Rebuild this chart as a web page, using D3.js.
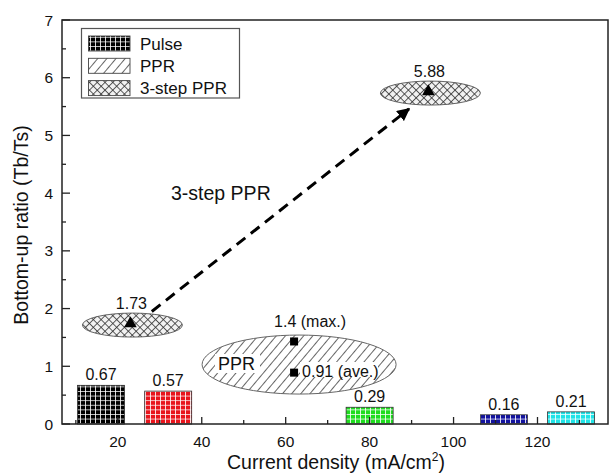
<!DOCTYPE html>
<html>
<head>
<meta charset="utf-8">
<script src="https://cdn.jsdelivr.net/npm/d3@7"></script>
<style>
  html, body { margin: 0; padding: 0; background: #fff; }
  svg { display: block; font-family: "Liberation Sans", Arial, sans-serif; }
</style>
</head>
<body>
<svg id="chart" width="610" height="475"></svg>
<script>
// ---- data ----
const pulseCurrents = [16, 32, 80, 112, 128];
const pulseRatios = [0.67, 0.57, 0.29, 0.16, 0.21];
const pulseLabels = ["0.67", "0.57", "0.29", "0.16", "0.21"];

const stepCurrents = [23, 94];
const stepRatios = [1.74, 5.76];
const stepLabels = ["1.73", "5.88"];

const pprCurrent = 62;
const pprRatios = [1.43, 0.89];
const pprLabels = ["1.4 (max.)", "0.91 (ave.)"];

const arrowFrom = [28.1, 1.95];
const arrowTo = [89.4, 5.46];

const xMajorTicks = [20, 40, 60, 80, 100, 120];
const xMinorTicks = [10, 30, 50, 70, 90, 110, 130];
const yMajorTicks = [0, 1, 2, 3, 4, 5, 6, 7];
const yMinorTicks = [0.5, 1.5, 2.5, 3.5, 4.5, 5.5, 6.5];

const legendNames = ["Pulse", "PPR", "3-step PPR"];

// ---- styles ----
const barColors = ["#000000", "#e8141c", "#1fdc1f", "#12129e", "#1fe3e6"];
const barWidth = 11.2; // in data units

const svg = d3.select("#chart");
const x = d3.scaleLinear().domain([6.7, 136.8]).range([62, 608]);
const y = d3.scaleLinear().domain([0, 7]).range([424, 20]);

const defs = svg.append("defs");
barColors.forEach((c, i) => {
  const p = defs.append("pattern").attr("id", "grid" + i)
    .attr("patternUnits", "userSpaceOnUse").attr("width", 5).attr("height", 4.6);
  p.append("rect").attr("width", 5).attr("height", 4.6).attr("fill", c);
  p.append("path").attr("d", "M0 0.4 H5 M0.5 0 V4.6")
    .attr("stroke", "#fff").attr("stroke-width", 0.9).attr("stroke-opacity", 0.9);
});
const hatch = defs.append("pattern").attr("id", "hatch")
  .attr("patternUnits", "userSpaceOnUse").attr("width", 7).attr("height", 7)
  .attr("patternTransform", "rotate(40)");
hatch.append("rect").attr("width", 7).attr("height", 7).attr("fill", "#fff");
hatch.append("line").attr("x1", 0.5).attr("y1", 0).attr("x2", 0.5).attr("y2", 7)
  .attr("stroke", "#555").attr("stroke-width", 0.9);
const cross = defs.append("pattern").attr("id", "cross")
  .attr("patternUnits", "userSpaceOnUse").attr("width", 5.5).attr("height", 5.5)
  .attr("patternTransform", "rotate(45)");
cross.append("rect").attr("width", 5.5).attr("height", 5.5).attr("fill", "#f2f2f2");
cross.append("path").attr("d", "M0 0.5 H5.5 M0.5 0 V5.5")
  .attr("stroke", "#333").attr("stroke-width", 0.8);
defs.append("marker").attr("id", "arrow")
  .attr("viewBox", "0 0 10 10").attr("refX", 9).attr("refY", 5)
  .attr("markerWidth", 4.3).attr("markerHeight", 4.3).attr("markerUnits", "strokeWidth")
  .attr("orient", "auto")
  .append("path").attr("d", "M0 0 L10 5 L0 10 Z").attr("fill", "#000");

// ---- bars ----
const bars = pulseCurrents.map((c, i) => ({ c, v: pulseRatios[i], label: pulseLabels[i], i }));
svg.append("g").selectAll("rect").data(bars).join("rect")
  .attr("x", d => x(d.c - barWidth / 2))
  .attr("y", d => y(d.v))
  .attr("width", d => x(d.c + barWidth / 2) - x(d.c - barWidth / 2))
  .attr("height", d => y(0) - y(d.v))
  .attr("fill", d => `url(#grid${d.i})`)
  .attr("stroke", "#333").attr("stroke-width", 0.8);
svg.append("g").selectAll("text").data(bars).join("text")
  .attr("x", d => x(d.c)).attr("y", d => y(d.v) - 5)
  .attr("text-anchor", "middle").attr("font-size", 16).attr("fill", "#111")
  .text(d => d.label);

// ---- 3-step PPR ellipses ----
const steps = stepCurrents.map((c, i) => ({ c, v: stepRatios[i], label: stepLabels[i] }));
svg.append("g").selectAll("ellipse").data(steps).join("ellipse")
  .attr("cx", d => x(d.c) + 2).attr("cy", d => y(d.v) + 1.5)
  .attr("rx", 50).attr("ry", 12)
  .attr("fill", "url(#cross)").attr("stroke", "#555").attr("stroke-width", 0.9);
svg.append("g").selectAll("path").data(steps).join("path")
  .attr("d", d3.symbol().type(d3.symbolTriangle).size(70))
  .attr("transform", d => `translate(${x(d.c)},${y(d.v)})`)
  .attr("fill", "#000");
svg.append("g").selectAll("text").data(steps).join("text")
  .attr("x", d => x(d.c) + 1).attr("y", d => y(d.v) - 15)
  .attr("text-anchor", "middle").attr("font-size", 16).attr("fill", "#111")
  .text(d => d.label);

// ---- arrow ----
svg.append("line")
  .attr("x1", x(arrowFrom[0])).attr("y1", y(arrowFrom[1]))
  .attr("x2", x(arrowTo[0])).attr("y2", y(arrowTo[1]))
  .attr("stroke", "#000").attr("stroke-width", 3)
  .attr("stroke-dasharray", "11,7")
  .attr("marker-end", "url(#arrow)");
svg.append("text").attr("x", 171).attr("y", 200)
  .attr("font-size", 19.5).attr("fill", "#111").text("3-step PPR");

// ---- PPR ellipse ----
svg.append("ellipse")
  .attr("cx", x(pprCurrent) + 5).attr("cy", y(1.03))
  .attr("rx", 97).attr("ry", 29.5)
  .attr("fill", "url(#hatch)").attr("stroke", "#666").attr("stroke-width", 1);
svg.append("rect").attr("x", 215).attr("y", 354).attr("width", 45).attr("height", 19).attr("fill", "#fff");
svg.append("text").attr("x", 218).attr("y", 370)
  .attr("font-size", 18).attr("fill", "#111").text("PPR");
const pprPts = pprRatios.map((v, i) => ({ v, label: pprLabels[i], i }));
svg.append("g").selectAll("rect").data(pprPts).join("rect")
  .attr("x", x(pprCurrent) - 4).attr("y", d => y(d.v) - 4)
  .attr("width", 8).attr("height", 8).attr("fill", "#000");
svg.append("rect").attr("x", 300).attr("y", 362).attr("width", 78).attr("height", 15).attr("fill", "#fff");
svg.append("g").selectAll("text.ppr").data(pprPts).join("text")
  .attr("x", d => d.i === 0 ? x(pprCurrent) - 20 : x(pprCurrent) + 8)
  .attr("y", d => d.i === 0 ? y(d.v) - 14 : y(d.v) + 4)
  .attr("font-size", 16).attr("fill", "#111")
  .text(d => d.label);

// ---- axes ----
const axisColor = "#222";
const g = svg.append("g").attr("stroke", axisColor).attr("stroke-width", 1.3);
g.selectAll("line.xM").data(xMajorTicks).join("line")
  .attr("x1", d => x(d)).attr("x2", d => x(d)).attr("y1", y(0)).attr("y2", y(0) - 7);
g.selectAll("line.xm").data(xMinorTicks).join("line")
  .attr("x1", d => x(d)).attr("x2", d => x(d)).attr("y1", y(0)).attr("y2", y(0) - 4);
g.selectAll("line.yM").data(yMajorTicks).join("line")
  .attr("x1", x.range()[0]).attr("x2", x.range()[0] + 8).attr("y1", d => y(d)).attr("y2", d => y(d));
g.selectAll("line.ym").data(yMinorTicks).join("line")
  .attr("x1", x.range()[0]).attr("x2", x.range()[0] + 4).attr("y1", d => y(d)).attr("y2", d => y(d));
svg.append("rect")
  .attr("x", x.range()[0]).attr("y", y(7))
  .attr("width", x.range()[1] - x.range()[0]).attr("height", y(0) - y(7))
  .attr("fill", "none").attr("stroke", axisColor).attr("stroke-width", 1.5);

svg.append("g").selectAll("text").data(xMajorTicks).join("text")
  .attr("x", d => x(d)).attr("y", 447)
  .attr("text-anchor", "middle").attr("font-size", 15.5).attr("fill", "#111")
  .text(d => d);
svg.append("g").selectAll("text").data(yMajorTicks).join("text")
  .attr("x", 53).attr("y", d => y(d) + 5.5)
  .attr("text-anchor", "end").attr("font-size", 15.5).attr("fill", "#111")
  .text(d => d);

const xt = svg.append("text").attr("x", 336).attr("y", 469)
  .attr("text-anchor", "middle").attr("font-size", 19.5).attr("fill", "#111");
xt.append("tspan").text("Current density (mA/cm");
xt.append("tspan").attr("font-size", 12).attr("dy", -8).text("2");
xt.append("tspan").attr("dy", 8).text(")");
svg.append("text").attr("transform", "translate(28,225) rotate(-90)")
  .attr("text-anchor", "middle").attr("font-size", 19.5).attr("fill", "#111")
  .text("Bottom-up ratio (Tb/Ts)");

// ---- legend ----
const leg = svg.append("g");
leg.append("rect").attr("x", 81.5).attr("y", 28.5).attr("width", 158).attr("height", 69.5)
  .attr("fill", "#fff").attr("stroke", "#555").attr("stroke-width", 1.2);
const legFills = ["url(#grid0)", "url(#hatch)", "url(#cross)"];
legendNames.forEach((n, i) => {
  const yy = 36 + i * 22.3;
  leg.append("rect").attr("x", 88.5).attr("y", yy).attr("width", 41.5).attr("height", 15)
    .attr("fill", legFills[i]).attr("stroke", "#444").attr("stroke-width", 0.9);
  leg.append("text").attr("x", 140).attr("y", yy + 13.5)
    .attr("font-size", 17).attr("fill", "#111").text(n);
});
</script>
</body>
</html>
